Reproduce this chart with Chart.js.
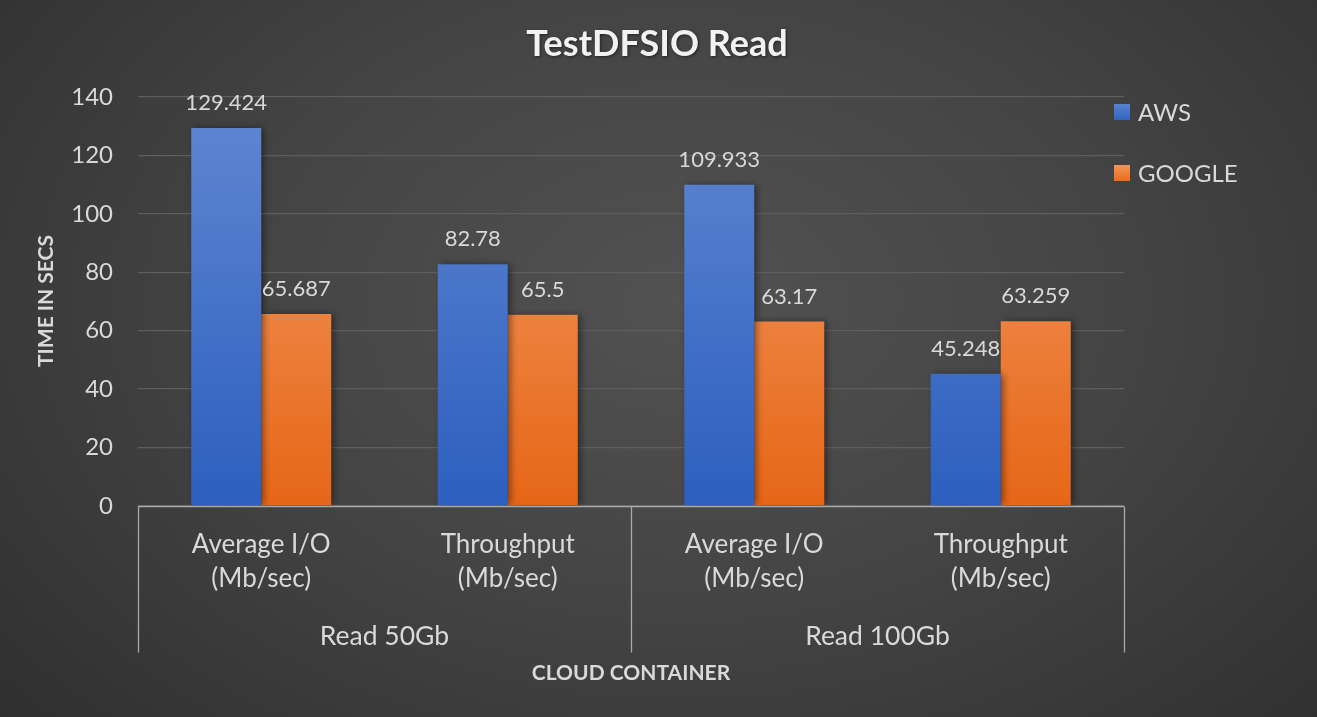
<!DOCTYPE html>
<html>
<head>
<meta charset="utf-8">
<script src="https://cdn.jsdelivr.net/npm/chart.js@4.4.0/dist/chart.umd.min.js"></script>
<style>
html,body{margin:0;padding:0;width:1317px;height:717px;overflow:hidden;}
body{background:radial-gradient(ellipse 75% 95% at 52% 42%, #525252 0%, #444444 45%, #2c2c2c 100%);}
#wrap{position:relative;width:1317px;height:717px;}
</style>
</head>
<body>
<div id="wrap"><canvas id="c" width="1317" height="717"></canvas></div>
<script>
const categories = [["Average I/O","(Mb/sec)"],["Throughput","(Mb/sec)"],["Average I/O","(Mb/sec)"],["Throughput","(Mb/sec)"]];
const groups = ["Read 50Gb","Read 100Gb"];
const seriesNames = ["AWS","GOOGLE"];
const awsValues = [129.424, 82.78, 109.933, 45.248];
const googleValues = [65.687, 65.5, 63.17, 63.259];
const awsLabels = ["129.424","82.78","109.933","45.248"];
const googleLabels = ["65.687","65.5","63.17","63.259"];
const yTicks = [0,20,40,60,80,100,120,140];
const chartTitle = "TestDFSIO Read";
const yTitle = "TIME IN SECS";
const xTitle = "CLOUD CONTAINER";

const FONT = "Lato";
const TXT = "#d9d9d9";

function grad(ctx, chart, top, bottom){
  const area = chart.chartArea;
  if(!area) return top;
  const g = ctx.createLinearGradient(0, area.top, 0, area.bottom);
  g.addColorStop(0, top);
  g.addColorStop(1, bottom);
  return g;
}

const overlay = {
  id:'overlay',
  beforeDatasetsDraw(chart){
    const ctx = chart.ctx;
    ctx.save();
    ctx.shadowColor = 'rgba(0,0,0,0.45)';
    ctx.shadowBlur = 7;
    ctx.shadowOffsetX = 3;
    ctx.shadowOffsetY = 0;
  },
  afterDatasetsDraw(chart){
    const ctx = chart.ctx;
    ctx.restore();
    ctx.save();
    ctx.font = `22px ${FONT}`;
    ctx.fillStyle = TXT;
    ctx.textAlign = 'center';
    ctx.textBaseline = 'middle';
    const labelSets = [awsLabels, googleLabels];
    chart.data.datasets.forEach((ds, di) => {
      const meta = chart.getDatasetMeta(di);
      meta.data.forEach((bar, i) => {
        ctx.fillText(labelSets[di][i], bar.x, bar.y - 25);
      });
    });
    ctx.restore();
  },
  afterDraw(chart){
    const ctx = chart.ctx;
    const x = chart.scales.x, y = chart.scales.y;
    const area = chart.chartArea;
    ctx.save();
    ctx.strokeStyle = '#a9a9a9';
    ctx.lineWidth = 1.3;
    const base = Math.round(y.getPixelForValue(0)) + 0.5;
    ctx.beginPath();
    ctx.moveTo(area.left, base); ctx.lineTo(area.right, base);
    const bounds = [area.left, (x.getPixelForValue(1)+x.getPixelForValue(2))/2, area.right];
    bounds.forEach(bx => { ctx.moveTo(Math.round(bx)+0.5, base); ctx.lineTo(Math.round(bx)+0.5, base + 146); });
    ctx.stroke();
    ctx.fillStyle = TXT;
    ctx.font = `26.5px ${FONT}`;
    ctx.textAlign = 'center';
    ctx.textBaseline = 'middle';
    groups.forEach((g, gi) => {
      const cx = (bounds[gi] + bounds[gi+1]) / 2;
      ctx.fillText(g, cx, 636);
    });
    ctx.fillStyle = '#f2f2f2';
    ctx.font = `bold 36px ${FONT}`;
    ctx.shadowColor = 'rgba(0,0,0,0.5)';
    ctx.shadowBlur = 3; ctx.shadowOffsetX = 1; ctx.shadowOffsetY = 1;
    ctx.fillText(chartTitle, 657, 44);
    ctx.shadowColor = 'transparent';
    ctx.fillStyle = TXT;
    ctx.font = `bold 21px ${FONT}`;
    ctx.fillText(xTitle, 631, 673);
    ctx.save();
    ctx.translate(46, 301);
    ctx.rotate(-Math.PI/2);
    ctx.font = `bold 21px ${FONT}`;
    ctx.fillText(yTitle, 0, 0);
    ctx.restore();
    const cols = [['#5b82cc','#3064c0'],['#f29458','#ea6c1e']];
    ctx.font = `24px ${FONT}`;
    ctx.textAlign = 'left';
    seriesNames.forEach((n, i) => {
      const ly = 112 + i*61;
      const g = ctx.createLinearGradient(0, ly-8, 0, ly+8);
      g.addColorStop(0, cols[i][0]); g.addColorStop(1, cols[i][1]);
      ctx.fillStyle = g;
      ctx.fillRect(1114, ly-8, 16, 16);
      ctx.fillStyle = TXT;
      ctx.fillText(n, 1138, ly+1);
    });
    ctx.restore();
  }
};

new Chart(document.getElementById('c'), {
  type:'bar',
  data:{
    labels: categories,
    datasets:[
      {label:seriesNames[0], data:awsValues,
       backgroundColor:(c)=>grad(c.chart.ctx, c.chart, '#6187d2', '#2c5fbf')},
      {label:seriesNames[1], data:googleValues,
       backgroundColor:(c)=>grad(c.chart.ctx, c.chart, '#f4a06a', '#e66617')}
    ]
  },
  options:{
    responsive:false,
    animation:false,
    devicePixelRatio:1,
    layout:{padding:{left:1, right:193, top:97, bottom:0}},
    plugins:{legend:{display:false}, title:{display:false}, tooltip:{enabled:false}},
    datasets:{bar:{categoryPercentage:0.568, barPercentage:1.0, borderWidth:0}},
    scales:{
      x:{
        grid:{display:false, drawTicks:false},
        border:{display:false},
        ticks:{color:TXT, font:{family:FONT, size:26, lineHeight:1.32}, padding:21, maxRotation:0, autoSkip:false},
        afterFit(s){ s.height = 211; }
      },
      y:{
        min:0, max:140,
        afterBuildTicks(s){ s.ticks = yTicks.map(v=>({value:v})); },
        grid:{color:'#5e5e5e', lineWidth:1.3, drawTicks:false},
        border:{display:false},
        ticks:{color:TXT, font:{family:FONT, size:24}, padding:25},
        afterFit(s){ s.width = 137; }
      }
    }
  },
  plugins:[overlay]
});
</script>
</body>
</html>
